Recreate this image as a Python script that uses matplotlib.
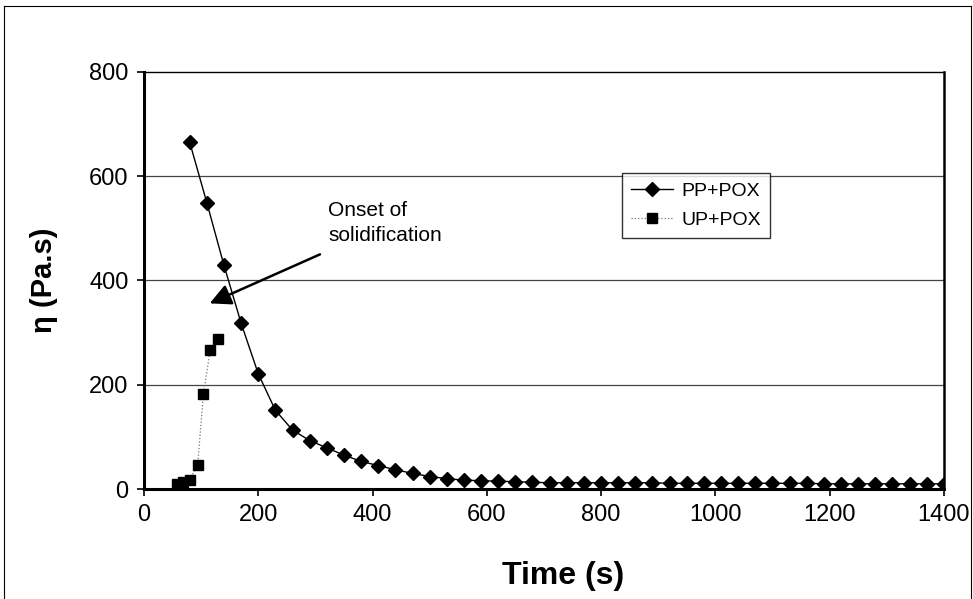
import matplotlib
matplotlib.use("Agg")
import matplotlib.pyplot as plt
from matplotlib.lines import Line2D

plt.rcParams['font.family'] = ['Liberation Sans', 'DejaVu Sans']

# ------------------ Datos ------------------
# PP+POX: viscosidad durante el curado, un punto cada 30 s
pp_time = [80, 110, 140, 170, 200, 230, 260, 290, 320, 350, 380, 410, 440, 470,
           500, 530, 560, 590, 620, 650, 680, 710, 740, 770, 800, 830, 860, 890,
           920, 950, 980, 1010, 1040, 1070, 1100, 1130, 1160, 1190, 1220, 1250,
           1280, 1310, 1340, 1370, 1400]
pp_eta = [665, 549, 429, 318, 221, 151, 113, 93, 79, 65, 53, 45, 37, 30,
          24, 20, 17, 16, 15, 14, 13, 12, 12, 12, 12, 12, 12, 12,
          11, 11, 11, 11, 11, 11, 11, 11, 11, 10, 10, 10,
          10, 10, 10, 10, 10]

# UP+POX: subida de viscosidad al inicio
up_time = [57, 68, 80, 94, 104, 116, 129]
up_eta = [10, 13, 18, 46, 183, 267, 288]

x_ticks = [0, 200, 400, 600, 800, 1000, 1200, 1400]
y_ticks = [0, 200, 400, 600, 800]

# ------------------ Figura ------------------
fig = plt.figure(figsize=(9.73, 5.99), dpi=100)
fig.subplots_adjust(left=0.148, right=0.970, top=0.880, bottom=0.1836)
ax = fig.add_subplot(1, 1, 1)

ax.plot(pp_time, pp_eta, color='black', lw=1.0, marker='D', ms=7.5,
        mfc='black', mec='black', label='PP+POX', zorder=3)
ax.plot(up_time, up_eta, color='#777777', lw=0.9, ls=':', marker='s', ms=6.5,
        mfc='black', mec='black', label='UP+POX', zorder=3)

ax.set_xlim(0, 1400)
ax.set_ylim(0, 800)
ax.set_xticks(x_ticks)
ax.set_yticks(y_ticks)
ax.tick_params(direction='out', length=5, width=1.2, labelsize=17, pad=6)

for yv in y_ticks[1:-1]:
    ax.axhline(yv, color='#444444', lw=0.9, zorder=1)

ax.spines['left'].set_linewidth(2.2)
ax.spines['bottom'].set_linewidth(2.2)
ax.spines['top'].set_linewidth(1.0)
ax.spines['right'].set_linewidth(1.8)

ax.set_xlabel('Time (s)', fontsize=23, fontweight='bold')
ax.xaxis.set_label_coords(0.524, -0.172)
ax.set_ylabel('η (Pa.s)', fontsize=21, fontweight='bold')
ax.yaxis.set_label_coords(-0.107, 0.5)

# Flecha y texto del inicio de la solidificación
ax.annotate('', xy=(115, 356), xytext=(308, 450),
            arrowprops=dict(arrowstyle='-|>', color='black', lw=1.8,
                            mutation_scale=32, shrinkA=0, shrinkB=0))
ax.text(322, 510, 'Onset of\nsolidification', fontsize=15, ha='left',
        va='center', linespacing=1.45)

leg = ax.legend(loc='upper left', bbox_to_anchor=(0.5975, 0.757), fontsize=14,
                frameon=True, fancybox=False, edgecolor='black',
                borderaxespad=0, handlelength=2.2, borderpad=0.45,
                labelspacing=0.6, handletextpad=0.4)
leg.get_frame().set_linewidth(1.0)

# Marco exterior del gráfico
for xs, ys in [((4 / 973, 4 / 973), (0, 1 - 6 / 599)),
               ((4 / 973, 971 / 973), (1 - 6 / 599, 1 - 6 / 599)),
               ((971 / 973, 971 / 973), (0, 1 - 6 / 599))]:
    fig.add_artist(Line2D(xs, ys, transform=fig.transFigure, color='black', lw=0.8))

fig.savefig('out.png', dpi=100)
